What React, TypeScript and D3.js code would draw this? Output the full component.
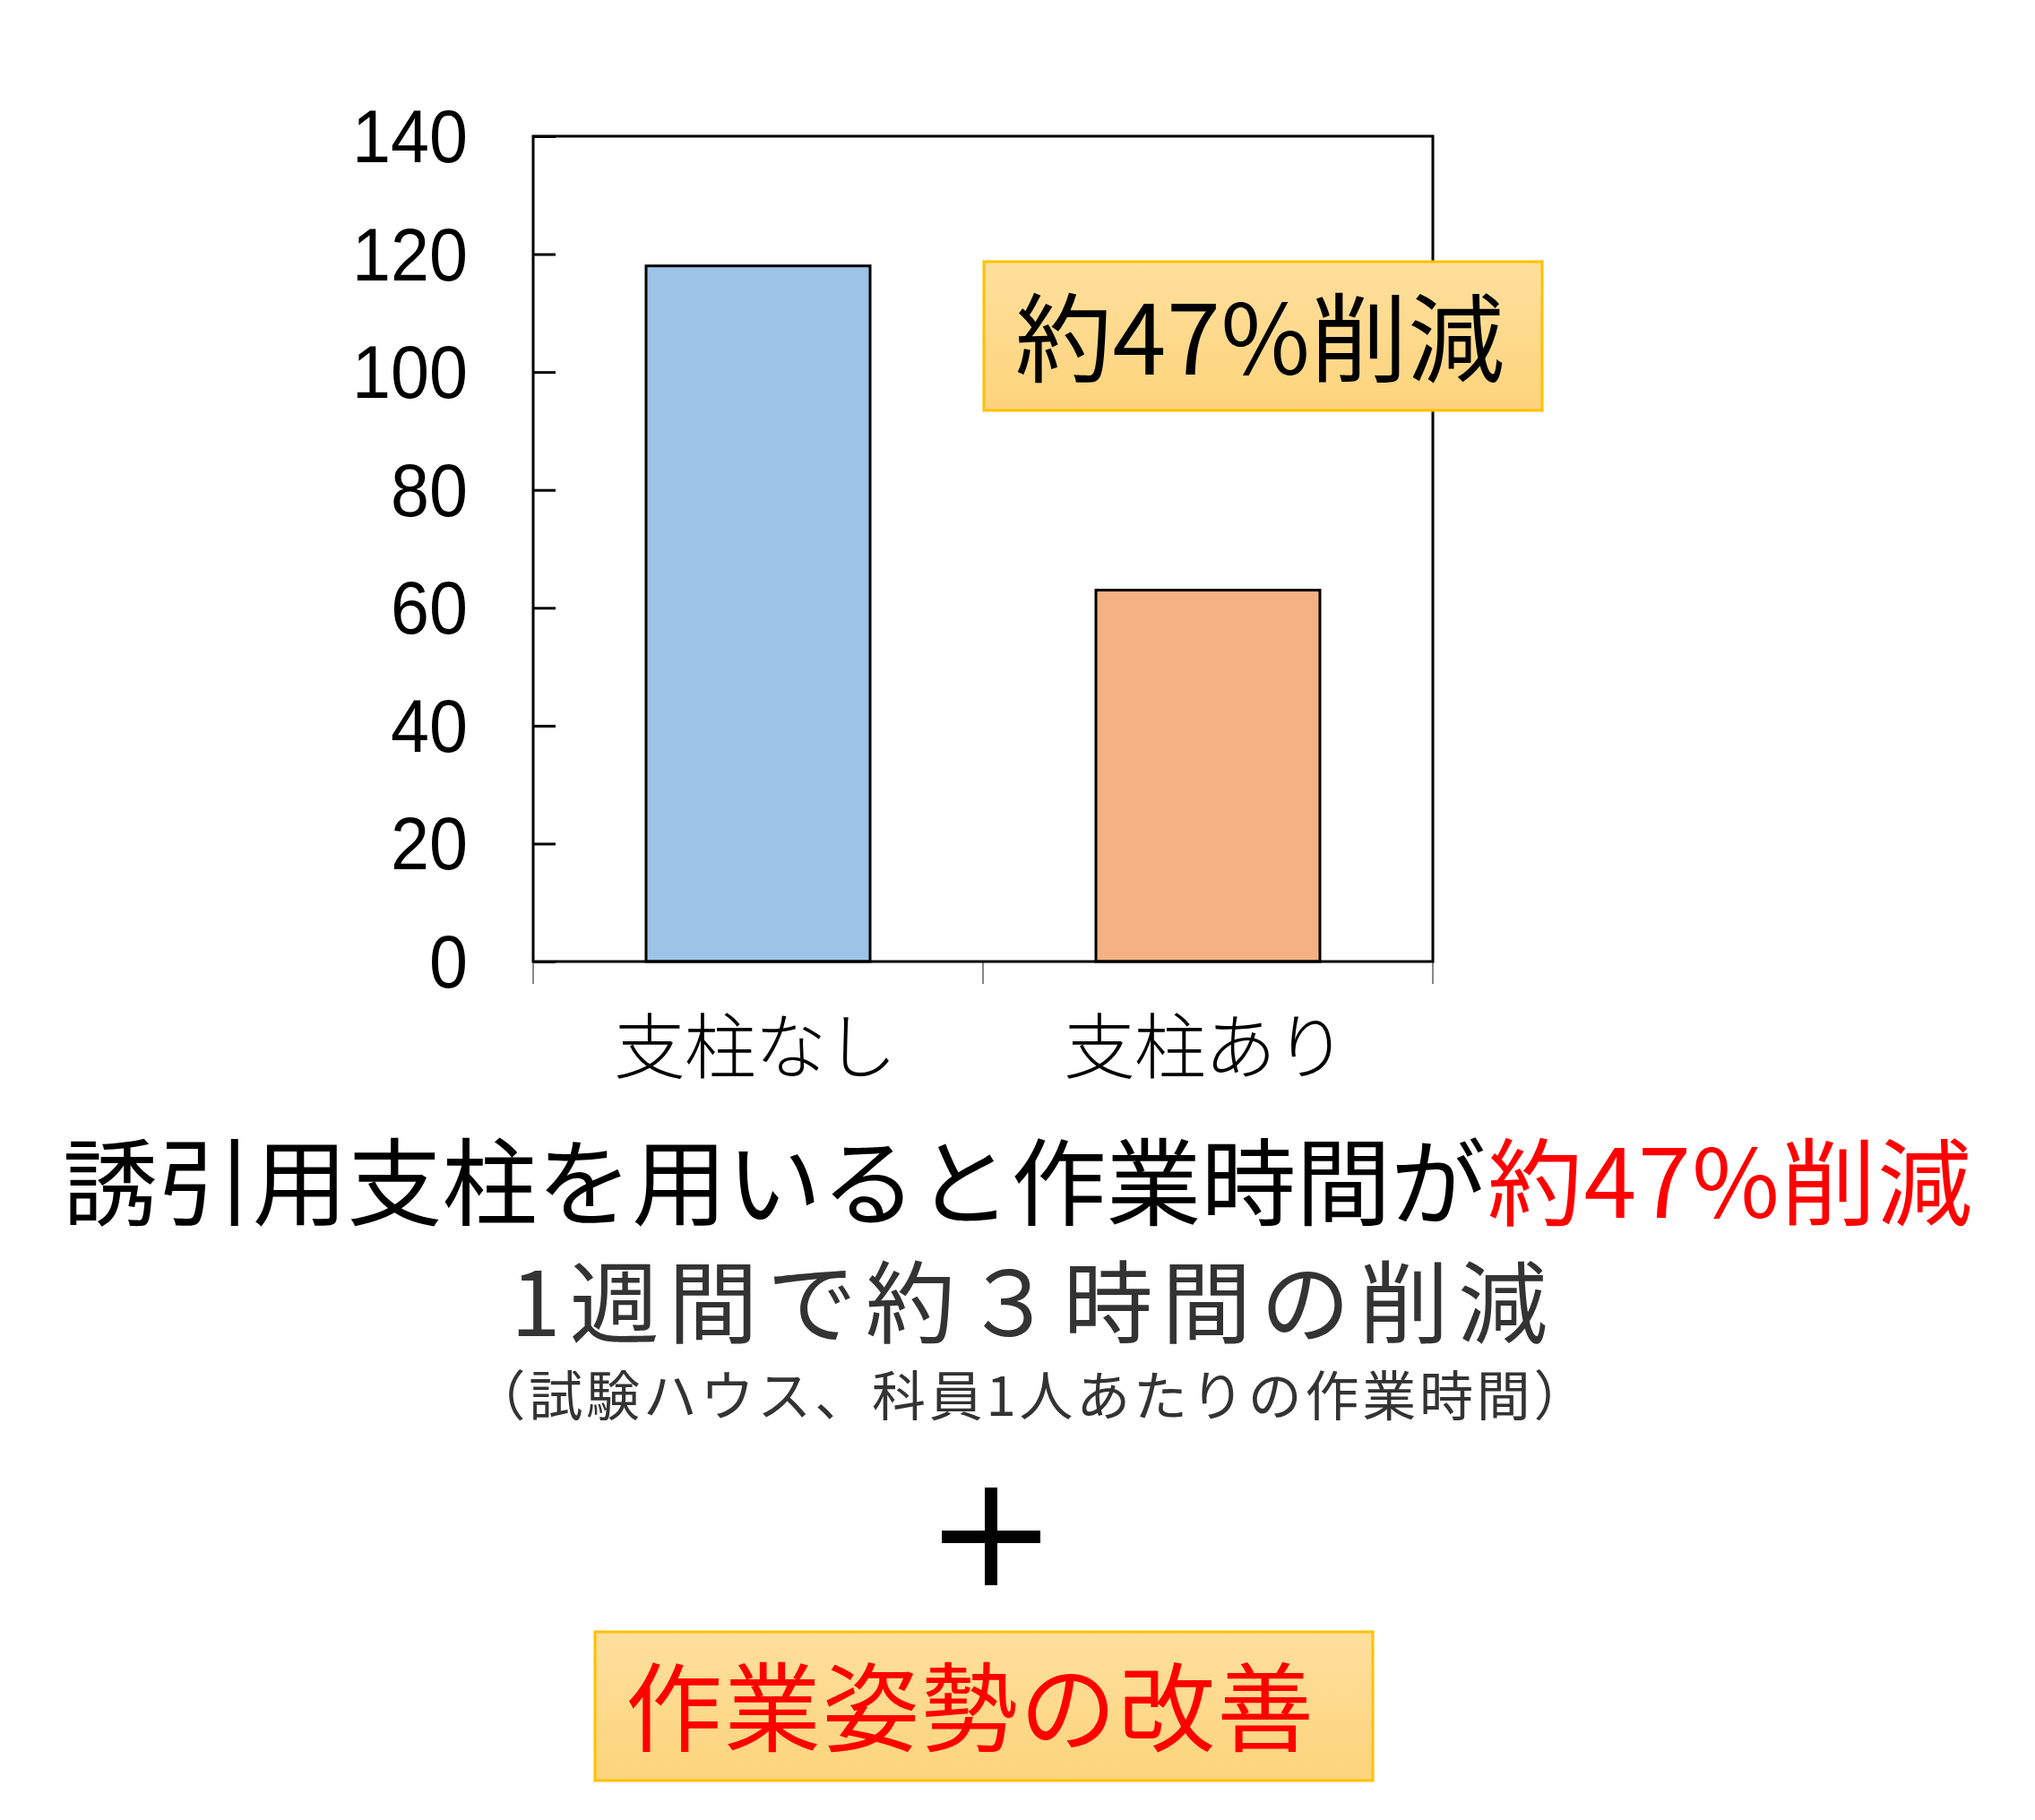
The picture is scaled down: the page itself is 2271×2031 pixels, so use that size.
import React, { useEffect, useRef } from 'react';
import * as d3 from 'd3';

// data
const categories = ['支柱なし', '支柱あり'];
const workTime = [118, 63];
const barColors = ['#9DC3E6', '#F4B183'];
const yTicks = [0, 20, 40, 60, 80, 100, 120, 140];

const badgeText = '約47%削減';
const headlineBlack = '誘引用支柱を用いると作業時間が';
const headlineRed = '約47%削減';
const subline = '1週間で約３時間の削減';
const note = '（試験ハウス、科員1人あたりの作業時間）';
const bottomText = '作業姿勢の改善';

const W = 2271;
const H = 2031;
const JP = '"Noto Sans CJK JP", "Noto Sans CJK SC", sans-serif';
const NUM = '"Liberation Sans", Arial, sans-serif';

export default function App() {
  const svgRef = useRef<SVGSVGElement>(null);

  useEffect(() => {
    if (!svgRef.current) return;
    const svg = d3.select(svgRef.current);
    svg.selectAll('*').remove();

    const plot = { left: 595, right: 1599, top: 152, bottom: 1073 };

    const x = d3.scaleBand<string>().domain(categories).range([plot.left, plot.right]);
    const y = d3.scaleLinear().domain([0, 140]).range([plot.bottom, plot.top]);

    // gradient for the yellow boxes
    const grad = svg.append('defs').append('linearGradient')
      .attr('id', 'boxFill').attr('x1', 0).attr('y1', 0).attr('x2', 0).attr('y2', 1);
    grad.append('stop').attr('offset', '0%').attr('stop-color', '#FEDF9D');
    grad.append('stop').attr('offset', '100%').attr('stop-color', '#FDD47C');

    svg.append('rect').attr('width', W).attr('height', H).attr('fill', '#fff');

    // bars
    const bw = x.bandwidth() * 0.498;
    svg.selectAll('rect.bar')
      .data(categories)
      .join('rect')
      .attr('class', 'bar')
      .attr('x', (d) => (x(d) as number) + (x.bandwidth() - bw) / 2)
      .attr('y', (_, i) => y(workTime[i]))
      .attr('width', bw)
      .attr('height', (_, i) => y(0) - y(workTime[i]))
      .attr('fill', (_, i) => barColors[i])
      .attr('stroke', '#000')
      .attr('stroke-width', 3);

    // y ticks (inward) + labels
    const yTickG = svg.append('g').attr('transform', `translate(${plot.left},0)`)
      .call(d3.axisRight(y).tickValues(yTicks).tickSize(25).tickFormat(() => ''));
    yTickG.select('.domain').remove();
    yTickG.selectAll('line').attr('stroke', '#000').attr('stroke-width', 3);

    const yLab = svg.append('g').attr('transform', `translate(${plot.left},0)`)
      .call(d3.axisLeft(y).tickValues(yTicks).tickSize(0).tickPadding(73));
    yLab.select('.domain').remove();
    yLab.selectAll<SVGTextElement, number>('text')
      .attr('font-family', NUM)
      .attr('font-size', 84)
      .attr('fill', '#000')
      .attr('dy', '0.34em')
      .attr('textLength', (d) => String(d).length * 43)
      .attr('lengthAdjust', 'spacingAndGlyphs');

    // category ticks below axis (band edges)
    const edges = [plot.left, ...categories.map((c) => (x(c) as number) + x.bandwidth())];
    svg.selectAll('line.ctick')
      .data(edges)
      .join('line')
      .attr('class', 'ctick')
      .attr('x1', (d) => d).attr('x2', (d) => d)
      .attr('y1', plot.bottom).attr('y2', plot.bottom + 25)
      .attr('stroke', '#888').attr('stroke-width', 2);

    svg.selectAll('text.cat')
      .data(categories)
      .join('text')
      .attr('class', 'cat')
      .attr('x', (d) => (x(d) as number) + x.bandwidth() / 2 - 3)
      .attr('y', 1197)
      .attr('text-anchor', 'middle')
      .attr('font-family', JP)
      .attr('font-weight', 300)
      .attr('font-size', 80)
      .attr('fill', '#000')
      .attr('textLength', 316)
      .attr('lengthAdjust', 'spacing')
      .text((d) => d);

    // frame
    svg.append('rect')
      .attr('x', plot.left).attr('y', plot.top)
      .attr('width', plot.right - plot.left).attr('height', plot.bottom - plot.top)
      .attr('fill', 'none').attr('stroke', '#000').attr('stroke-width', 3);

    // badge over the chart
    svg.append('rect')
      .attr('x', 1098).attr('y', 292).attr('width', 623).attr('height', 166)
      .attr('fill', 'url(#boxFill)').attr('stroke', '#FFC000').attr('stroke-width', 3);
    svg.append('text')
      .attr('x', 1133).attr('y', 418)
      .attr('font-family', JP).attr('font-size', 108).attr('fill', '#000')
      .attr('textLength', 546).attr('lengthAdjust', 'spacing')
      .text(badgeText);

    // headline
    svg.append('text')
      .attr('x', 70).attr('y', 1359)
      .attr('font-family', JP).attr('font-size', 106).attr('fill', '#000')
      .attr('textLength', 1588).attr('lengthAdjust', 'spacing')
      .text(headlineBlack);
    svg.append('text')
      .attr('x', 1660).attr('y', 1359)
      .attr('font-family', JP).attr('font-size', 106).attr('fill', '#FF0000')
      .attr('textLength', 541).attr('lengthAdjust', 'spacing')
      .text(headlineRed);

    svg.append('text')
      .attr('x', 570).attr('y', 1491)
      .attr('font-family', JP).attr('font-size', 100).attr('fill', '#333')
      .attr('textLength', 1157).attr('lengthAdjust', 'spacing')
      .text(subline);

    svg.append('text')
      .attr('x', 1149).attr('y', 1580)
      .attr('text-anchor', 'middle')
      .attr('font-family', JP).attr('font-size', 60).attr('fill', '#333')
      .attr('textLength', 1245).attr('lengthAdjust', 'spacing')
      .text(note);

    // plus sign
    svg.append('line').attr('x1', 1051).attr('x2', 1161).attr('y1', 1715).attr('y2', 1715)
      .attr('stroke', '#000').attr('stroke-width', 14);
    svg.append('line').attr('x1', 1106).attr('x2', 1106).attr('y1', 1660).attr('y2', 1769)
      .attr('stroke', '#000').attr('stroke-width', 14);

    // bottom box
    svg.append('rect')
      .attr('x', 664).attr('y', 1821).attr('width', 868).attr('height', 166)
      .attr('fill', 'url(#boxFill)').attr('stroke', '#FFC000').attr('stroke-width', 3);
    svg.append('text')
      .attr('x', 698).attr('y', 1946)
      .attr('font-family', JP).attr('font-size', 108).attr('fill', '#FF0000')
      .attr('textLength', 768).attr('lengthAdjust', 'spacing')
      .text(bottomText);
  }, []);

  return (
    <div style={{ position: 'absolute', left: 0, top: 0, width: W, height: H, background: '#fff' }}>
      <svg ref={svgRef} width={W} height={H} style={{ display: 'block' }} />
    </div>
  );
}
